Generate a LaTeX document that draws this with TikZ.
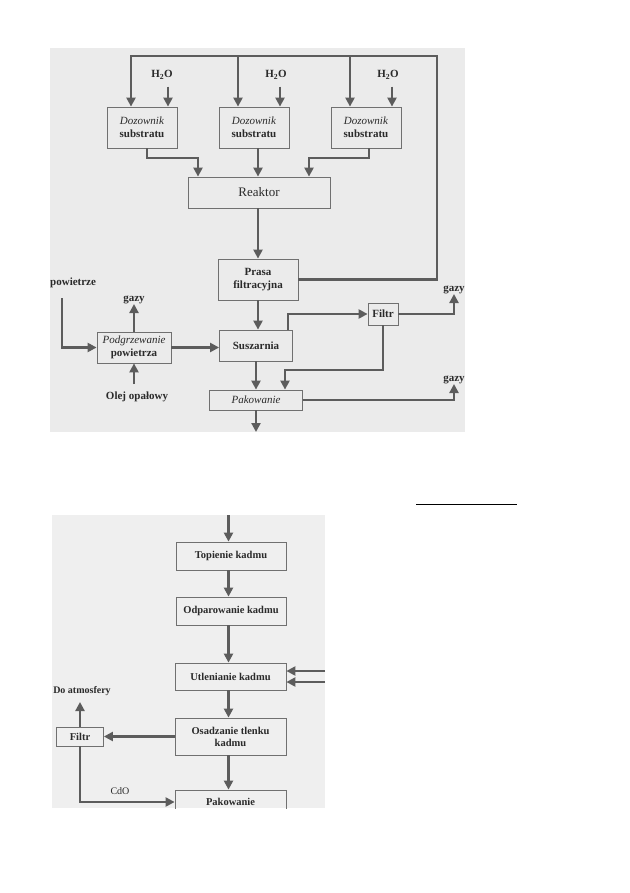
\documentclass[tikz,border=0pt]{standalone}
\usepackage{fontspec}
\setmainfont{Liberation Serif}
\usetikzlibrary{arrows.meta,calc}
\definecolor{scanA}{HTML}{EBEBEB}
\definecolor{scanB}{HTML}{EFEFEF}
\definecolor{linec}{HTML}{5C5C5C}
\definecolor{boxc}{HTML}{707070}
\definecolor{txt}{HTML}{2A2A2A}
\begin{document}
\begin{tikzpicture}[x=1pt,y=-1pt,
  box/.style={draw=boxc, line width=0.8pt, align=center, inner sep=1pt,
    font=\fontsize{11}{12.5}\selectfont\bfseries, text=txt},
  boxs/.style={box, font=\fontsize{10.5}{12}\selectfont\bfseries},
  flow/.style={draw=linec, line width=2.2pt},
  arr/.style={flow, -{Triangle[width=9pt,length=9pt]}},
  lbl/.style={font=\fontsize{11}{12}\selectfont\bfseries, text=txt, inner sep=0pt},
  lbls/.style={font=\fontsize{10}{11}\selectfont\bfseries, text=txt, inner sep=0pt},
]
\useasboundingbox (0,0) rectangle (629,893);
% scanned backgrounds
\fill[scanA] (50,48) rectangle (465,432);
\fill[scanB] (52,515) rectangle (325,808);
% rule
\draw[black, line width=1pt] (416,504) -- (517,504);

% ---------- top diagram ----------
\node[box, minimum width=70pt, minimum height=41pt] (doz1) at (142,127.5) {\textmd{\textit{Dozownik}}\\substratu};
\node[box, minimum width=70pt, minimum height=41pt] (doz2) at (254,127.5) {\textmd{\textit{Dozownik}}\\substratu};
\node[box, minimum width=70pt, minimum height=41pt] (doz3) at (366,127.5) {\textmd{\textit{Dozownik}}\\substratu};
\node[box, minimum width=142pt, minimum height=31pt, font=\fontsize{13}{15}\selectfont] (reak) at (259,192.5) {Reaktor};
\node[box, minimum width=80pt, minimum height=41pt] (prasa) at (258,279.5) {Prasa\\filtracyjna};
\node[box, minimum width=73pt, minimum height=31pt] (susz) at (256,345.5) {Suszarnia};
\node[box, minimum width=30pt, minimum height=22pt] (filtr) at (383,314) {Filtr};
\node[box, minimum width=93pt, minimum height=20pt] (pakow) at (256,400) {\textmd{\textit{Pakowanie}}};
\node[box, minimum width=74pt, minimum height=31pt] (podg) at (134,347.5) {\textmd{\textit{Podgrzewanie}}\\powietrza};

\node[lbl] (w1) at (162,75) {H\textsubscript{2}O};
\node[lbl] (w2) at (276,75) {H\textsubscript{2}O};
\node[lbl] (w3) at (388,75) {H\textsubscript{2}O};
\node[lbl, anchor=south] (g1) at (454,294) {gazy};
\node[lbl, anchor=south] (g2) at (454,384) {gazy};
\node[lbl, anchor=south] (g0) at (134,304) {gazy};
\node[lbl, anchor=west] (pw) at (50,283) {powietrze};
\node[lbl] (olej) at (137,397) {Olej opałowy};

\coordinate (tr) at (437,56);
\coordinate (tl) at (131,56);
\coordinate (t2) at (238,56);
\coordinate (t3) at (350,56);
\coordinate (d1b) at (198,158);
\coordinate (d3b) at (309,158);
\coordinate (fp) at (285,370);
\coordinate (pws) at (62,298);
\coordinate (oj) at (134,384);
\coordinate (out1) at (256,432);

% recycle line from Prasa to the dosers
\draw[arr] (prasa.east) -| (tr) -| (doz1.north -| tl);
\draw[arr] (t2) -- (doz2.north -| t2);
\draw[arr] (t3) -- (doz3.north -| t3);
% water inlets
\draw[arr] ([xshift=26pt,yshift=20pt]doz1.north) -- ([xshift=26pt]doz1.north);
\draw[arr] ([xshift=26pt,yshift=20pt]doz2.north) -- ([xshift=26pt]doz2.north);
\draw[arr] ([xshift=26pt,yshift=20pt]doz3.north) -- ([xshift=26pt]doz3.north);
% dosers to reactor
\draw[arr] ([xshift=5pt]doz1.south) |- (d1b) -- (reak.north -| d1b);
\draw[arr] ([xshift=4pt]doz2.south) -- ([xshift=-1pt]reak.north);
\draw[arr] ([xshift=3pt]doz3.south) |- (d3b) -- (reak.north -| d3b);
\draw[arr] ([xshift=-1pt]reak.south) -- (prasa.north);
\draw[arr] (prasa.south) -- (prasa.south |- susz.north);
% dryer and filter
\draw[arr] ([xshift=32pt]susz.north) |- (filtr.west);
\draw[arr] (filtr.east) -| (g1.south);
\draw[arr] (filtr.south) |- (fp) -- (pakow.north -| fp);
\draw[arr] (susz.south) -- (pakow.north);
\draw[arr] (pakow.east) -| (g2.south);
\draw[arr] (pakow.south) -- (out1);
% air heater
\draw[arr] (pws) |- (podg.west);
\draw[arr] (podg.north) -- (podg.north |- g0.south);
\draw[arr] (oj) -- (podg.south);
\draw[arr] (podg.east) -- (podg.east -| susz.west);

% ---------- bottom diagram ----------
\begin{scope}
\clip (52,515) rectangle (325,808);
\node[boxs, minimum width=110pt, minimum height=28pt] (top) at (231,556) {Topienie kadmu};
\node[boxs, minimum width=110pt, minimum height=28pt] (odp) at (231,611) {Odparowanie kadmu};
\node[boxs, minimum width=111pt, minimum height=27pt] (utl) at (230.5,676.5) {Utlenianie kadmu};
\node[boxs, minimum width=111pt, minimum height=37pt] (osa) at (230.5,736.5) {Osadzanie tlenku\\kadmu};
\node[boxs, minimum width=111pt, minimum height=24pt] (pak) at (230.5,802) {Pakowanie};
\node[boxs, minimum width=47pt, minimum height=19pt] (fb) at (80,736.5) {Filtr};
\node[lbls] (atm) at (82,691) {Do atmosfery};
\node[lbls, font=\fontsize{10}{11}\selectfont] (cdo) at (120,791) {CdO};

\coordinate (bin) at (228.5,515);
\coordinate (r1) at (325,671);
\coordinate (r2) at (325,682);
\coordinate (atmA) at (80,702);

\draw[arr] (bin) -- ([xshift=-2.5pt]top.north);
\draw[arr] ([xshift=-2.5pt]top.south) -- ([xshift=-2.5pt]odp.north);
\draw[arr] ([xshift=-2.5pt]odp.south) -- ([xshift=-2pt]utl.north);
\draw[arr] (r1) -- (r1 -| utl.east);
\draw[arr] (r2) -- (r2 -| utl.east);
\draw[arr] ([xshift=-2pt]utl.south) -- ([xshift=-2pt]osa.north);
\draw[arr] (osa.west) -- (osa.west -| fb.east);
\draw[arr] (fb.north) -- (atmA);
\draw[arr] (fb.south) |- (pak.west);
\draw[arr] ([xshift=-2pt]osa.south) -- ([xshift=-2pt]pak.north);
\end{scope}
\end{tikzpicture}
\end{document}
